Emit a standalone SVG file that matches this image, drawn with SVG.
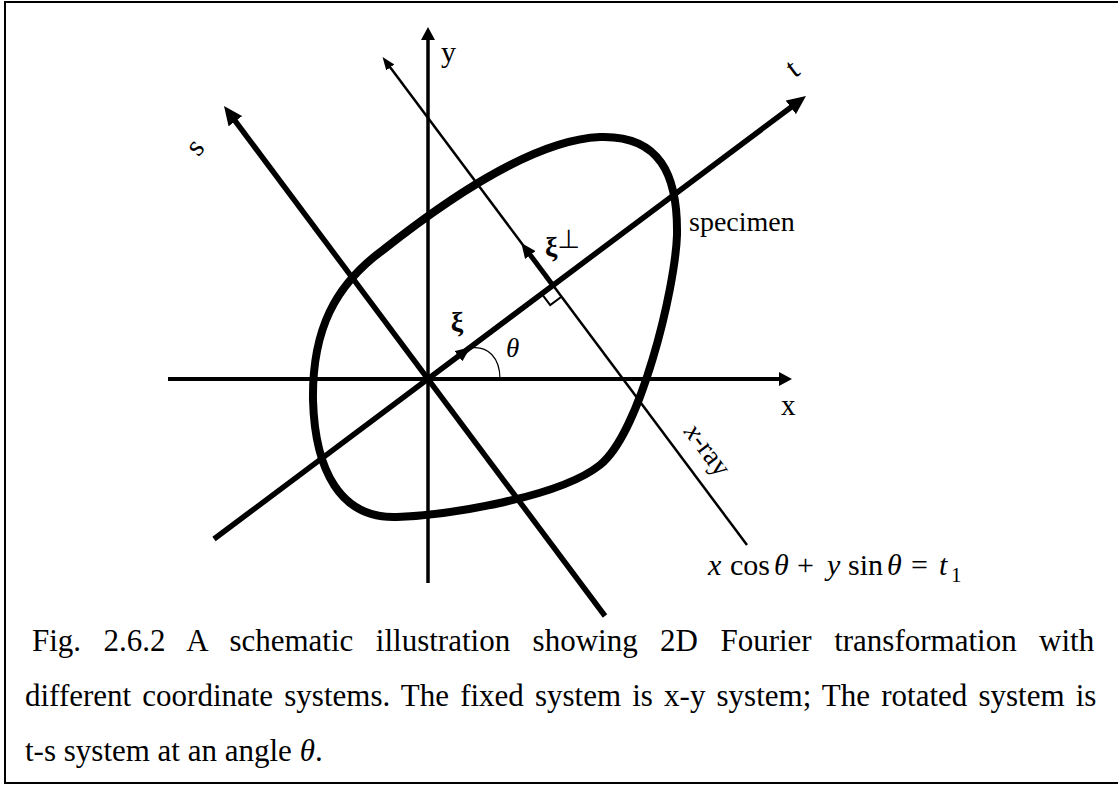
<svg xmlns="http://www.w3.org/2000/svg" width="1118" height="785" viewBox="0 0 1118 785">
<defs>
<style>
.ln{stroke:#000;fill:none;stroke-linecap:butt}
.lbl{font-family:"Liberation Serif","Times New Roman",serif;fill:#000}
.it{font-style:italic}
.cap{font-family:"Liberation Serif","Times New Roman",serif;font-size:31px;fill:#000}
</style>
<marker id="mA" markerUnits="userSpaceOnUse" markerWidth="13" markerHeight="14" viewBox="0 0 13 14" refX="6.5" refY="7" orient="auto"><path d="M0,0 L13,7 L0,14 z" fill="#000"/></marker>
<marker id="mB" markerUnits="userSpaceOnUse" markerWidth="19" markerHeight="17" viewBox="0 0 19 17" refX="9.5" refY="8.5" orient="auto"><path d="M0,0 L19,8.5 L0,17 z" fill="#000"/></marker>
<marker id="mC" markerUnits="userSpaceOnUse" markerWidth="13" markerHeight="10" viewBox="0 0 13 10" refX="6.5" refY="5" orient="auto"><path d="M0,0 L13,5 L0,10 z" fill="#000"/></marker>
<marker id="mD" markerUnits="userSpaceOnUse" markerWidth="15" markerHeight="13" viewBox="0 0 15 13" refX="7.5" refY="6.5" orient="auto"><path d="M0,0 L15,6.5 L0,13 z" fill="#000"/></marker>
</defs>
<rect x="0" y="0" width="1118" height="785" fill="#fff"/>
<g id="frame"><rect x="5" y="2" width="1125" height="781" fill="none" stroke="#000" stroke-width="2"/></g>

<g id="specimen">
<path class="ln" stroke-width="8" d="M313,400 C312,330 335,285 383,250 C440,205 530,140 600,137 C660,135 678,175 677,235 C675,290 640,433 600,465 C560,497 450,515 397,517 C340,519 315,470 313,400 Z"/>
<text class="lbl" x="689" y="231" font-size="28">specimen</text>
</g>

<g id="connectors">
<line id="axis-x" class="ln" stroke-width="4" x1="168" y1="379" x2="785.5" y2="379" marker-end="url(#mA)"/>
<line id="axis-y" class="ln" stroke-width="3.5" x1="428" y1="583" x2="428" y2="33.5" marker-end="url(#mA)"/>
<line id="axis-t" class="ln" stroke-width="5.5" x1="214" y1="539" x2="798.4" y2="101.7" marker-end="url(#mB)"/>
<line id="axis-s" class="ln" stroke-width="5.5" x1="605" y1="616" x2="229.7" y2="113.6" marker-end="url(#mB)"/>
<line id="xray-line" class="ln" stroke-width="2.5" x1="747" y1="545" x2="386.4" y2="62.2" marker-end="url(#mC)"/>
<line id="xi-arrow" class="ln" stroke-width="4" x1="428" y1="379" x2="464.4" y2="351.7" marker-end="url(#mD)"/>
<line id="xiperp-arrow" class="ln" stroke-width="5" x1="553" y1="285.5" x2="525.8" y2="249" marker-end="url(#mD)"/>
<polyline id="right-angle" class="ln" stroke-width="2" points="541.8,293.9 550.2,305.1 561.4,296.7"/>
<path id="theta-arc" class="ln" stroke-width="1.2" d="M470,348 C488,345 500,358 500,379"/>
</g>

<g id="label-x"><text class="lbl" x="781" y="415" font-size="29">x</text></g>
<g id="label-y"><text class="lbl" x="441" y="62" font-size="30">y</text></g>
<g id="label-t"><text class="lbl" font-size="30" text-anchor="middle" transform="translate(798,76) rotate(-37)">t</text></g>
<g id="label-s"><text class="lbl" font-size="30" text-anchor="middle" transform="translate(202,153) rotate(-50)">s</text></g>
<g id="label-xray"><text class="lbl" font-size="28" text-anchor="middle" transform="translate(700.6,455.1) rotate(53.13)"><tspan class="it">x</tspan>-ray</text></g>
<g id="label-xi"><text class="lbl" x="457" y="331" font-size="28" font-weight="bold" text-anchor="middle">ξ</text></g>
<g id="label-xiperp"><text class="lbl" x="545" y="256" font-size="28" font-weight="bold">ξ<tspan font-family="DejaVu Sans" font-weight="normal" font-size="26" dy="-8">⊥</tspan></text></g>
<g id="label-theta"><text class="lbl it" x="506" y="357" font-size="27">θ</text></g>

<g id="formula">
<text class="lbl" font-size="30" y="575"><tspan class="it" x="708">x</tspan><tspan x="730">cos</tspan><tspan class="it" x="774">θ</tspan><tspan x="797">+</tspan><tspan class="it" x="827">y</tspan><tspan x="848">sin</tspan><tspan class="it" x="887">θ</tspan><tspan x="911">=</tspan><tspan class="it" x="939">t</tspan></text>
<text class="lbl" font-size="21" x="951" y="582">1</text>
</g>

<g id="caption">
<text class="cap" x="32" y="651" word-spacing="14.7">Fig. 2.6.2 A schematic illustration showing 2D Fourier transformation with</text>
<text class="cap" x="25" y="706" word-spacing="3.4">different coordinate systems. The fixed system is x-y system; The rotated system is</text>
<text class="cap" x="25" y="761">t-s system at an angle <tspan class="it">θ</tspan>.</text>
</g>
</svg>
